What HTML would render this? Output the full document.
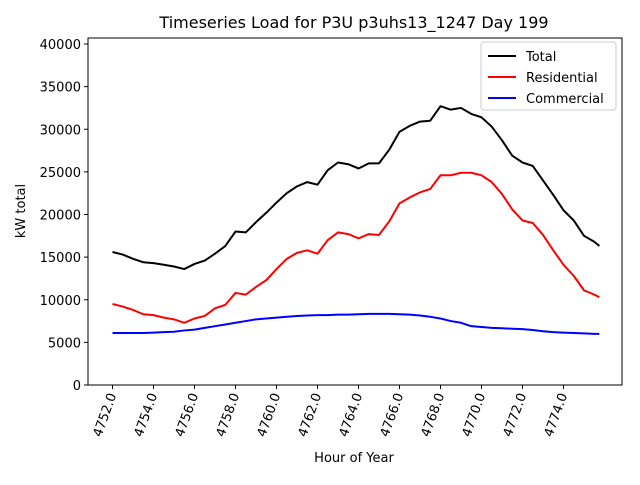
<!DOCTYPE html>
<html><head><meta charset="utf-8"><style>
body{margin:0;background:#fff;}
svg text{font-family:"DejaVu Sans","Liberation Sans",sans-serif;}
</style></head><body>
<svg id="chart" width="640" height="480" xmlns="http://www.w3.org/2000/svg">
<rect width="640" height="480" fill="#fff"/>
<text x="354" y="28" font-size="16" text-anchor="middle">Timeseries Load for P3U p3uhs13_1247  Day 199</text>
<g id="plot"></g>
<rect x="88" y="38" width="534" height="347" fill="none" stroke="#000" stroke-width="1"/>
<text x="354" y="462" font-size="13" text-anchor="middle">Hour of Year</text>
<text transform="translate(25,211) rotate(-90)" font-size="13" text-anchor="middle">kW total</text>
<g>
<rect x="481" y="42" width="135" height="68" rx="3" fill="#fff" stroke="#ccc"/>
<line x1="488" y1="56" x2="516" y2="56" stroke="#000" stroke-width="2"/>
<text x="526" y="61" font-size="13">Total</text>
<line x1="488" y1="77" x2="516" y2="77" stroke="#f00" stroke-width="2"/>
<text x="526" y="82" font-size="13">Residential</text>
<line x1="488" y1="98" x2="516" y2="98" stroke="#00f" stroke-width="2"/>
<text x="526" y="103" font-size="13">Commercial</text>
</g>
</svg>
<script>
const hours = [];
for (let i = 0; i < 48; i++) hours.push(4752 + i * 0.5);
hours.push(4775.75);
const total = [15600,15300,14800,14400,14300,14100,13900,13600,14200,14600,15400,16300,18000,17900,19100,20200,21400,22500,23300,23800,23500,25200,26100,25900,25400,26000,26000,27600,29700,30400,30900,31000,32700,32300,32500,31800,31400,30300,28700,26900,26100,25700,24000,22300,20500,19300,17500,16800,16300];
const residential = [9500,9200,8800,8300,8200,7900,7700,7300,7800,8100,9000,9400,10800,10600,11500,12300,13600,14800,15500,15800,15400,17000,17900,17700,17200,17700,17600,19200,21300,22000,22600,23000,24600,24600,24900,24900,24600,23800,22400,20600,19300,19000,17600,15800,14100,12800,11100,10600,10300];
const commercial = [6100,6100,6100,6100,6150,6200,6250,6400,6500,6700,6900,7100,7300,7500,7700,7800,7900,8000,8100,8150,8200,8200,8250,8250,8300,8350,8350,8350,8300,8250,8150,8000,7800,7500,7300,6900,6800,6700,6650,6600,6550,6450,6300,6200,6150,6100,6050,6000,6000];
const yTicks = [0,5000,10000,15000,20000,25000,30000,35000,40000];
const xTicks = [4752,4754,4756,4758,4760,4762,4764,4766,4768,4770,4772,4774];

const NS = "http://www.w3.org/2000/svg";
const xs = h => 112.5 + (h - 4752) * 20.5;
const ys = v => 385 - v * 341 / 40000;
const g = document.getElementById('plot');

yTicks.forEach(t => {
  const l = document.createElementNS(NS, 'line');
  l.setAttribute('x1', 84); l.setAttribute('x2', 88);
  l.setAttribute('y1', ys(t)); l.setAttribute('y2', ys(t));
  l.setAttribute('stroke', '#000');
  
  
  g.appendChild(l);
  const tx = document.createElementNS(NS, 'text');
  tx.setAttribute('x', 81); tx.setAttribute('y', ys(t) + 5);
  tx.setAttribute('font-size', '13'); tx.setAttribute('text-anchor', 'end');
  tx.textContent = t;
  
  
  g.appendChild(tx);
});
xTicks.forEach(t => {
  const l = document.createElementNS(NS, 'line');
  l.setAttribute('x1', xs(t)); l.setAttribute('x2', xs(t));
  l.setAttribute('y1', 385); l.setAttribute('y2', 389);
  l.setAttribute('stroke', '#000');
  
  
  g.appendChild(l);
  const tx = document.createElementNS(NS, 'text');
  tx.setAttribute('transform', 'translate(' + (xs(t) + 4) + ',395) rotate(-70)');
  tx.setAttribute('font-size', '13'); tx.setAttribute('text-anchor', 'end');
  tx.textContent = t.toFixed(1);
  
  
  g.appendChild(tx);
});
function series(vals, color, name) {
  const p = document.createElementNS(NS, 'polyline');
  p.setAttribute('points', vals.map((v, i) => xs(hours[i]) + ',' + ys(v)).join(' '));
  p.setAttribute('fill', 'none'); p.setAttribute('stroke', color);
  p.setAttribute('stroke-width', '2'); p.setAttribute('stroke-linejoin', 'round');
  
  
  g.appendChild(p);
}
series(total, '#000', 'total-line');
series(residential, '#f00', 'residential-line');
series(commercial, '#00f', 'commercial-line');
</script>
</body></html>
